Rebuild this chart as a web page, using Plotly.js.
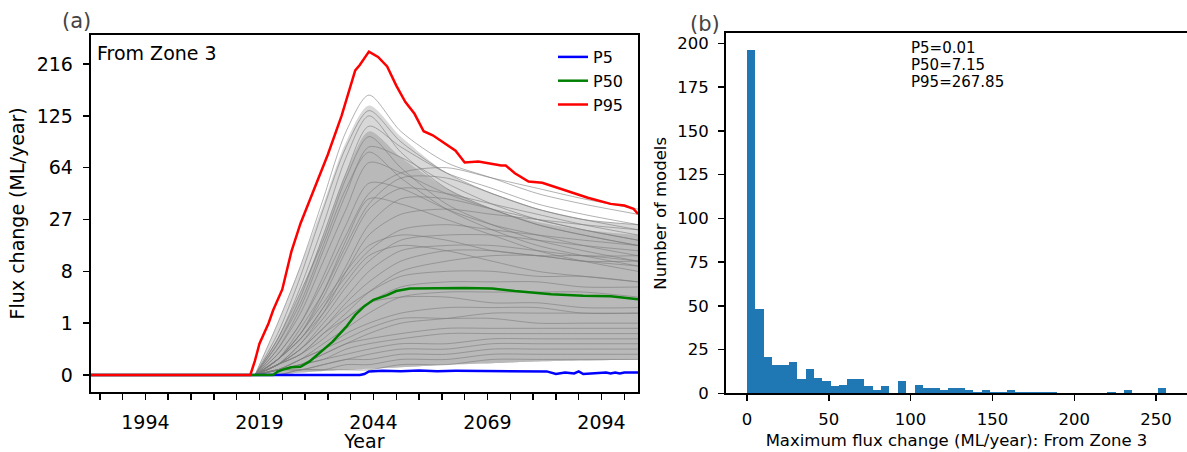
<!DOCTYPE html>
<html><head><meta charset="utf-8">
<script src="https://cdn.plot.ly/plotly-3.0.1.min.js"></script>
<style>html,body{margin:0;padding:0;background:#fff;}#chart{width:1187px;height:452px;}</style>
</head><body><div id="chart"></div>
<script>
// ---------- Panel (a): flux change time series (ML/year) ----------
const p95Years = [1982, 2017, 2018, 2019, 2021, 2022, 2024, 2026, 2028, 2030, 2034, 2037, 2040, 2041, 2043, 2045, 2047, 2049, 2051, 2053, 2055, 2057, 2060, 2062, 2064, 2067, 2072, 2073, 2075, 2078, 2081, 2086, 2091, 2096, 2099, 2101, 2102];
const p95Values = [0, 0, 0.02, 0.22, 1.0, 1.95, 4.5, 13.5, 25, 38, 77, 125, 203, 214, 243, 231, 211, 174, 146, 128, 104, 99, 88, 81, 69, 70, 66, 66, 59, 52, 51, 45.5, 40, 36, 35, 33, 30];

const p50Years = [1982, 2022, 2023, 2024, 2026, 2028, 2030, 2032, 2035, 2038, 2040, 2042, 2044, 2047, 2049, 2052, 2057, 2064, 2070, 2075, 2083, 2090, 2096, 2102];
const p50Values = [0, 0, 0.0003, 0.001, 0.0034, 0.004, 0.018, 0.074, 0.26, 0.80, 1.56, 2.35, 3.05, 3.65, 4.25, 4.66, 4.74, 4.74, 4.66, 4.25, 3.8, 3.58, 3.51, 3.11];

const p5Years = [1982, 2041, 2042, 2043, 2046, 2050, 2054, 2058, 2062, 2066, 2070, 2074, 2078, 2082, 2084, 2086, 2088, 2089, 2090, 2093, 2095, 2096, 2097, 2098, 2099, 2102];
const p5Values = [0, 0, 0.000008, 0.00034, 0.00051, 0.00042, 0.00061, 0.00042, 0.00051, 0.00051, 0.00042, 0.00051, 0.00042, 0.00034, 0.000008, 0.000125, 0.000027, 0.00034, 0.000008, 0.000027, 0.000125, 0.000027, 0.000125, 0.000027, 0.000125, 0.000125];

// individual model runs (a sample of the ensemble), values at these years
const modelYears = [2018, 2023, 2028, 2033, 2038, 2043, 2050, 2060, 2070, 2080, 2090, 2102];
const runA1 = [0, 1, 9.3, 39.3, 103.8, 157.5, 103.8, 68.9, 54.9, 42.9, 35.9, 29.8];
const runA2 = [0, 0.51, 6.9, 32.8, 85.2, 132.7, 91.1, 59.3, 42.9, 32.8, 27, 22];
const runA3 = [0, 0.34, 4.9, 24.4, 74.1, 125, 79.5, 46.7, 32.8, 24.4, 19.7, 15.6];
const runA4 = [0, 0.22, 3.4, 19.7, 59.3, 110.6, 85.2, 59.3, 46.7, 35.9, 29.8, 24.4];
const runA5 = [0, 0.34, 4.1, 17.6, 54.9, 97.3, 64, 35.9, 24.4, 17.6, 13.8, 10.6];
const runA6 = [0, 0.125, 2.2, 13.8, 42.9, 85.2, 74.1, 50.7, 35.9, 27, 22, 17.6];
const runA7 = [0, 0.22, 2.7, 15.6, 46.7, 79.5, 54.9, 32.8, 22, 15.6, 12.2, 9.3];
const runA8 = [0, 0.125, 1.7, 10.6, 32.8, 68.9, 59.3, 42.9, 32.8, 24.4, 19.7, 15.6];
const runB1 = [0, 0.064, 1, 5.8, 19.7, 42.9, 59.3, 64, 54.9, 46.7, 39.3, 32.8];
const runB2 = [0, 0.027, 0.73, 4.1, 15.6, 35.9, 54.9, 54.9, 42.9, 32.8, 27, 24.4];
const runB3 = [0, 0.027, 0.51, 3.4, 13.8, 32.8, 46.7, 42.9, 35.9, 29.8, 24.4, 19.7];
const runB4 = [0, 0.064, 1, 6.9, 24.4, 50.7, 46.7, 32.8, 24.4, 19.7, 15.6, 12.2];
const runB5 = [0, 0.027, 0.34, 2.2, 9.3, 24.4, 39.3, 39.3, 32.8, 27, 22, 17.6];
const runB6 = [0, 0.027, 0.51, 4.1, 17.6, 39.3, 35.9, 27, 19.7, 13.8, 10.6, 8];
const runB7 = [0, 0.008, 0.22, 1.7, 8, 19.7, 29.8, 32.8, 29.8, 27, 24.4, 22];
const runC1 = [0, 0.027, 0.34, 2.2, 6.9, 13.8, 22, 24.4, 22, 19.7, 17.6, 15.6];
const runC2 = [0, 0.008, 0.22, 1.3, 4.9, 10.6, 17.6, 19.7, 19.7, 17.6, 15.6, 13.8];
const runC3 = [0, 0.027, 0.51, 2.7, 8, 15.6, 19.7, 17.6, 13.8, 12.2, 10.6, 9.3];
const runC4 = [0, 0.008, 0.125, 1, 3.4, 8, 13.8, 15.6, 15.6, 13.8, 12.2, 12.2];
const runC5 = [0, 0.008, 0.125, 0.73, 2.7, 5.8, 10.6, 13.8, 13.8, 12.2, 12.2, 10.6];
const runC6 = [0, 0.027, 0.34, 1.7, 5.8, 12.2, 15.6, 13.8, 10.6, 8, 6.9, 5.8];
const runC7 = [0, 0.008, 0.064, 0.51, 1.7, 4.1, 8, 10.6, 12.2, 12.2, 10.6, 10.6];
const runD1 = [0, 0.008, 0.125, 0.73, 2.2, 4.1, 6.9, 8, 8, 6.9, 6.9, 5.8];
const runD2 = [0, 0.008, 0.064, 0.34, 1.3, 2.7, 4.9, 5.8, 5.8, 5.8, 4.9, 4.9];
const runD3 = [0, 0.001, 0.027, 0.22, 0.73, 1.7, 3.4, 4.1, 4.1, 4.1, 4.1, 3.4];
const runD4 = [0, 0.008, 0.064, 0.51, 1.3, 2.7, 3.4, 3.4, 2.7, 2.7, 2.2, 2.2];
const runD5 = [0, 0.001, 0.027, 0.125, 0.51, 1, 1.7, 2.2, 2.2, 2.2, 1.7, 1.7];
const runD6 = [0, 0.001, 0.008, 0.064, 0.22, 0.51, 1, 1.3, 1.7, 1.7, 1.7, 1.7];
const runD7 = [0, 0.001, 0.027, 0.125, 0.34, 0.73, 1.3, 1.3, 1.3, 1, 1, 1];
const runE1 = [0, 0.001, 0.008, 0.064, 0.22, 0.34, 0.51, 0.73, 0.73, 0.73, 0.73, 0.73];
const runE2 = [0, 0.001, 0.008, 0.027, 0.125, 0.22, 0.34, 0.51, 0.51, 0.51, 0.51, 0.51];
const runE3 = [0, 0.001, 0.008, 0.027, 0.064, 0.125, 0.22, 0.22, 0.34, 0.34, 0.34, 0.34];
const runE4 = [0, 0.001, 0.001, 0.008, 0.027, 0.064, 0.125, 0.125, 0.22, 0.22, 0.22, 0.22];
const runE5 = [0, 0.001, 0.001, 0.008, 0.027, 0.027, 0.064, 0.064, 0.125, 0.125, 0.125, 0.125];
const runE6 = [0, 0, 0.001, 0.001, 0.008, 0.008, 0.027, 0.027, 0.064, 0.064, 0.064, 0.064];
const runE7 = [0, 0, 0.001, 0.001, 0.001, 0.001, 0.008, 0.008, 0.027, 0.027, 0.027, 0.027];
// envelopes of the ensemble (dense core and outer spread)
const ensembleOuterUpper = [0, 1, 9.3, 35.9, 91.1, 140.6, 97.3, 59.3, 42.9, 32.8, 27, 24.4];
const ensembleCoreUpper = [0, 0.34, 4.1, 19.7, 59.3, 103.8, 74.1, 46.7, 32.8, 25.7, 22, 19.7];
const ensembleLower = [0, 0, 0.0001, 0.0005, 0.001, 0.0017, 0.0034, 0.008, 0.012, 0.018, 0.022, 0.027];

const fluxTickLabels = [0, 1, 8, 27, 64, 125, 216];
const yearTickLabels = [1994, 2019, 2044, 2069, 2094];

// ---------- Panel (b): histogram of maximum flux change ----------
const histBinStart = 0;
const histBinWidth = 5.12;
const histCounts = [196, 48, 21, 16, 16, 18, 8, 14, 9, 7, 4, 5, 8, 8, 4, 2, 4, 0, 7, 0, 5, 3, 3, 2, 3, 3, 2, 1, 2, 1, 1, 2, 1, 1, 1, 1, 1, 0, 0, 0, 0, 0, 0, 1, 0, 2, 0, 0, 0, 3];
const histXTicks = [0, 50, 100, 150, 200, 250];
const histYTicks = [0, 25, 50, 75, 100, 125, 150, 175, 200];
const percentileNotes = ['P5=0.01', 'P50=7.15', 'P95=267.85'];

// ---------- build ----------
const cr = v => Math.cbrt(v);
const FONT = 'DejaVu Sans';
const runs = [runA1, runA2, runA3, runA4, runA5, runA6, runA7, runA8, runB1, runB2, runB3, runB4, runB5, runB6, runB7,
  runC1, runC2, runC3, runC4, runC5, runC6, runC7, runD1, runD2, runD3, runD4, runD5, runD6, runD7,
  runE1, runE2, runE3, runE4, runE5, runE6, runE7];

const smooth = {shape: 'spline', smoothing: 0.8};
const traces = [];
traces.push({x: modelYears, y: ensembleLower.map(cr), mode: 'lines', line: Object.assign({width: 0}, smooth), hoverinfo: 'skip', showlegend: false});
traces.push({x: modelYears, y: ensembleOuterUpper.map(cr), mode: 'lines', fill: 'tonexty', fillcolor: 'rgb(216,216,216)', line: Object.assign({width: 0}, smooth), hoverinfo: 'skip', showlegend: false});
traces.push({x: modelYears, y: ensembleLower.map(cr), mode: 'lines', line: Object.assign({width: 0}, smooth), hoverinfo: 'skip', showlegend: false});
traces.push({x: modelYears, y: ensembleCoreUpper.map(cr), mode: 'lines', fill: 'tonexty', fillcolor: 'rgb(185,185,185)', line: Object.assign({width: 0}, smooth), hoverinfo: 'skip', showlegend: false});
runs.forEach(r => traces.push({x: modelYears, y: r.map(cr), mode: 'lines', line: Object.assign({color: 'rgba(125,125,125,0.6)', width: 1}, smooth), hoverinfo: 'skip', showlegend: false}));
traces.push({x: p5Years, y: p5Values.map(cr), mode: 'lines', name: 'P5', line: {color: '#0000ff', width: 2.5}});
traces.push({x: p50Years, y: p50Values.map(cr), mode: 'lines', name: 'P50', line: {color: '#008000', width: 2.5}});
traces.push({x: p95Years, y: p95Values.map(cr), mode: 'lines', name: 'P95', line: {color: '#ff0000', width: 2.5}});
traces.forEach(t => { t.xaxis = 'x'; t.yaxis = 'y'; });

traces.push({type: 'bar', x: histCounts.map((c, i) => histBinStart + (i + 0.5) * histBinWidth), y: histCounts, width: histBinWidth,
  marker: {color: '#1f77b4', line: {width: 0}}, showlegend: false, xaxis: 'x2', yaxis: 'y2'});

const axisCommon = {showline: true, linecolor: '#000', linewidth: 2, ticks: 'outside', ticklen: 6, tickwidth: 1.5, tickcolor: '#000',
  showgrid: false, zeroline: false, fixedrange: true};

const layout = {
  width: 1187, height: 452,
  margin: {l: 0, r: 0, t: 0, b: 0},
  paper_bgcolor: '#fff', plot_bgcolor: '#fff',
  font: {family: FONT, color: '#000'},
  showlegend: true,
  bargap: 0,
  xaxis: Object.assign({}, axisCommon, {
    domain: [90.7 / 1187, 638 / 1187], range: [1982, 2102], anchor: 'y', mirror: true,
    tickvals: yearTickLabels, ticktext: yearTickLabels.map(String),
    minor: {tick0: 1984, dtick: 5, ticks: 'outside', ticklen: 6, tickwidth: 1.5, tickcolor: '#000', showgrid: false},
    tickfont: {size: 19}, ticklabelstandoff: 6,
    title: {text: 'Year', font: {size: 19}, standoff: 3}
  }),
  yaxis: Object.assign({}, axisCommon, {
    domain: [1 - 391.7 / 452, 1 - 35 / 452], range: [-0.322, 6.56], anchor: 'x', mirror: true,
    tickvals: fluxTickLabels.map(cr), ticktext: fluxTickLabels.map(String),
    tickfont: {size: 19}, ticklabelstandoff: 6,
    title: {text: 'Flux change (ML/year)', font: {size: 19}, standoff: 7}
  }),
  xaxis2: Object.assign({}, axisCommon, {
    domain: [726 / 1187, 1], range: [-12.8, 268.9], anchor: 'y2', mirror: true,
    tickvals: histXTicks, ticktext: histXTicks.map(String),
    tickfont: {size: 16.5}, ticklabelstandoff: 4,
    title: {text: 'Maximum flux change (ML/year): From Zone 3', font: {size: 16.5}, standoff: 6}
  }),
  yaxis2: Object.assign({}, axisCommon, {
    domain: [1 - 393.3 / 452, 1 - 33.3 / 452], range: [0, 205.8], anchor: 'x2', mirror: false,
    tickvals: histYTicks, ticktext: histYTicks.map(String),
    tickfont: {size: 16.5}, ticklabelstandoff: 6,
    title: {text: 'Number of models', font: {size: 16.5}, standoff: 6}
  }),
  legend: {x: 553 / 1187, y: 1 - 40 / 452, xanchor: 'left', yanchor: 'top', traceorder: 'normal', bgcolor: 'rgba(0,0,0,0)', borderwidth: 0,
    font: {size: 16, family: FONT}},
  annotations: [
    {text: '(a)', xref: 'paper', yref: 'paper', x: 60 / 1187, y: 1 - 21 / 452, xanchor: 'left', yanchor: 'middle', showarrow: false, font: {size: 21, color: '#444'}},
    {text: '(b)', xref: 'paper', yref: 'paper', x: 688 / 1187, y: 1 - 24 / 452, xanchor: 'left', yanchor: 'middle', showarrow: false, font: {size: 21, color: '#444'}},
    {text: 'From Zone 3', xref: 'paper', yref: 'paper', x: 95 / 1187, y: 1 - 40 / 452, xanchor: 'left', yanchor: 'top', showarrow: false, font: {size: 19}},
  ].concat(percentileNotes.map((t, i) => ({text: t, xref: 'paper', yref: 'paper', x: 909 / 1187, y: 1 - (37 + 17 * i) / 452,
    xanchor: 'left', yanchor: 'top', showarrow: false, font: {size: 15}})))
};

Plotly.newPlot('chart', traces, layout, {displayModeBar: false, staticPlot: true});
</script></body></html>
